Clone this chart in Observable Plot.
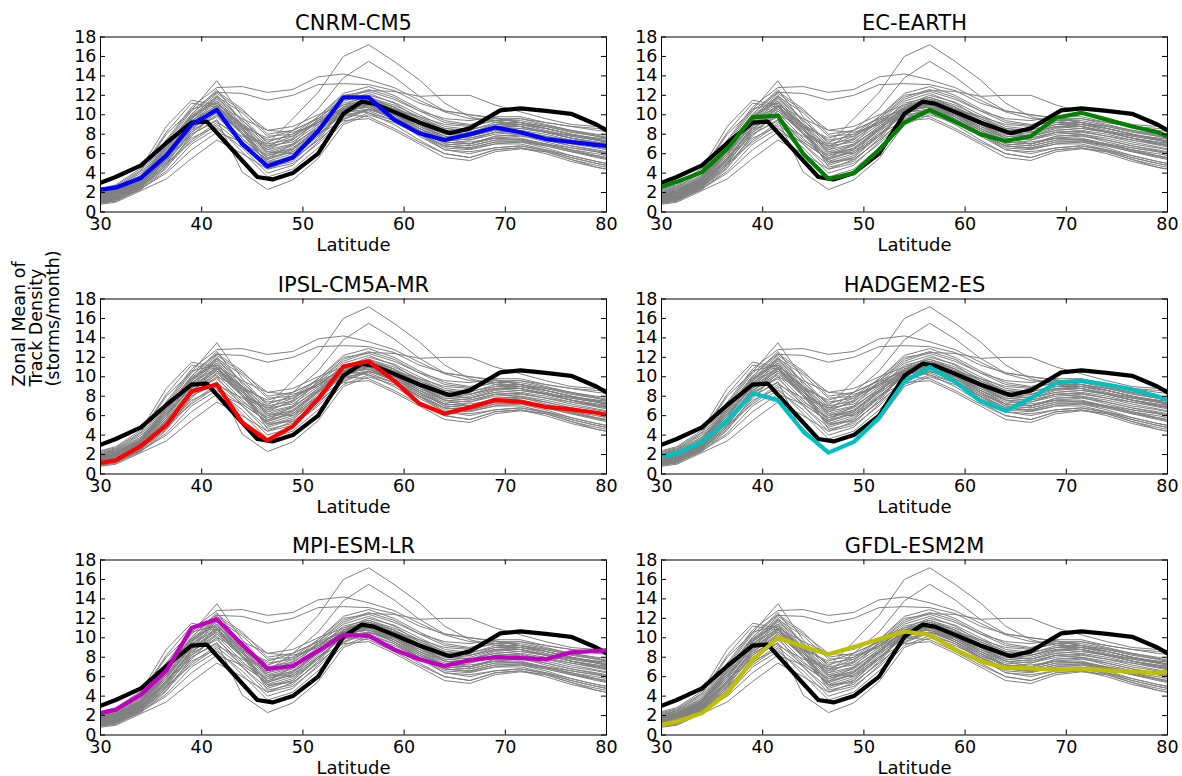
<!DOCTYPE html>
<html><head><meta charset="utf-8">
<script src="https://cdn.jsdelivr.net/npm/d3@7"></script>
<script src="https://cdn.jsdelivr.net/npm/@observablehq/plot@0.6"></script>
<style>
body{margin:0;background:#fff;width:1182px;height:776px;overflow:hidden;position:relative;font-family:"DejaVu Sans",sans-serif}
.panel{position:absolute}
</style></head><body>
<div id="root"></div>
<script>
// Latitude grid of the model curves
const lat = [30,31.5,34,36.5,39,41.5,44,46.5,49,51.5,54,56.5,59,61.5,64,66.5,69,71.5,74,76.5,79,80];
// Observed (black) curve
const obsLat = [30,31.5,34,36.5,39,40.5,44,45.5,47,49,51.5,54,55.8,57,59,61.5,64.5,66.5,69.5,71.5,74,76.5,79,80];
const obsValues = [3.0,3.6,4.8,7.1,9.2,9.3,5.3,3.6,3.35,4.0,6.0,10.1,11.35,11.15,10.3,9.2,8.1,8.6,10.45,10.65,10.4,10.1,9.0,8.4];

// Highlighted models
const modelNames = ["CNRM-CM5","EC-EARTH","IPSL-CM5A-MR","HADGEM2-ES","MPI-ESM-LR","GFDL-ESM2M"];
const modelColors = ["#0000ff","#008000","#ff0000","#00bfbf","#bf00bf","#bfbf00"];
const cnrm   = [2.3,2.5,3.5,5.8,9.0,10.5,7.0,4.7,5.6,8.3,11.8,11.8,9.5,8.1,7.4,8.0,8.7,8.2,7.5,7.2,6.9,6.8];
const ecearth= [2.6,3.1,4.1,6.5,9.75,9.9,6.0,3.4,4.0,6.4,9.2,10.5,9.3,8.0,7.3,7.8,9.7,10.2,9.5,8.8,8.2,7.8];
const ipsl   = [1.15,1.4,2.9,5.0,8.5,9.2,5.3,3.45,4.9,7.7,11.05,11.6,9.6,7.25,6.2,6.85,7.6,7.45,6.9,6.65,6.3,6.1];
const hadgem = [1.8,2.1,3.3,5.5,8.3,7.6,4.4,2.2,3.3,5.8,9.5,11.0,9.5,7.5,6.5,7.8,9.4,9.6,9.2,8.7,8.0,7.6];
const mpi    = [2.25,2.6,4.15,6.6,11.0,11.9,9.3,6.8,7.1,8.65,10.3,10.2,8.8,7.8,7.1,7.7,8.0,7.9,7.8,8.5,8.65,8.7];
const gfdl   = [1.05,1.4,2.25,4.3,7.7,10.0,9.1,8.3,9.05,9.85,10.65,10.3,8.8,7.6,6.9,6.85,6.7,6.8,6.65,6.5,6.4,6.5];
const modelSeries = [cnrm, ecearth, ipsl, hadgem, mpi, gfdl];

// Ensemble (gray) curves
const g01=[1.5,1.9,3.0,5.5,8.6,10.4,8.0,7.0,9.6,12.3,16.0,17.2,15.5,13.6,11.2,9.8,9.2,8.8,8.2,7.6,7.0,6.8];
const g02=[1.8,2.2,3.4,6.2,9.4,11.2,9.0,6.6,8.4,10.6,13.8,15.5,13.9,11.9,10.4,10.0,9.6,9.2,8.6,8.0,7.4,7.2];
const g03=[2.2,2.6,4.0,7.4,10.8,12.8,12.9,12.3,12.6,13.9,14.2,13.6,12.8,11.5,10.3,9.6,9.4,9.0,8.6,8.0,7.5,7.3];
const g04=[2.0,2.4,3.7,6.8,10.1,12.3,12.2,11.5,12.0,13.1,13.2,13.1,12.5,11.2,10.4,10.0,9.7,9.2,8.8,8.3,7.8,7.6];
const g05=[1.7,2.1,3.3,6.0,9.0,10.6,8.2,5.5,7.0,9.6,11.6,12.5,12.4,11.9,12.0,12.0,11.0,10.3,9.6,9.0,8.8,8.7];
const g06=[1.0,1.2,2.3,4.5,8.0,9.5,4.1,2.3,3.3,5.5,9.0,10.0,9.2,8.0,6.8,6.5,7.0,7.0,6.4,5.6,5.0,4.8];
const g07=[2.0,2.5,4.2,8.0,10.5,13.5,9.8,7.0,7.5,9.2,11.0,12.0,11.3,10.0,8.8,8.5,9.0,9.0,8.4,7.8,7.4,7.2];
const g08=[2.4,2.8,4.5,8.8,11.5,11.0,8.6,6.2,6.9,8.8,10.6,11.6,10.8,9.4,8.2,8.0,8.7,8.8,8.3,7.9,7.6,7.5];
const g09=[0.8,1.0,2.2,3.4,5.5,7.4,6.0,4.4,5.0,7.0,9.5,10.5,10.0,8.6,7.4,7.2,7.6,7.4,6.8,6.2,5.8,5.6];
const g10=[1.2,1.5,2.8,5.2,8.8,11.8,9.0,6.0,6.5,8.5,10.5,11.2,10.2,8.8,7.6,7.4,8.2,8.3,7.8,7.2,6.7,6.5];
const g11=[1.4,1.8,3.0,5.8,9.2,12.0,9.5,6.8,7.2,9.0,11.2,11.8,10.8,9.2,8.0,7.8,8.6,8.8,8.2,7.6,7.1,6.9];
const g12=[1.1,1.4,2.6,4.8,7.8,10.4,8.2,5.0,5.6,7.8,10.2,11.0,10.0,8.4,7.0,6.8,7.4,7.5,7.0,6.3,5.7,5.5];
const g13=[1.6,2.0,3.2,6.4,9.8,11.6,8.8,4.6,5.2,7.6,10.8,11.4,10.4,9.0,7.8,7.6,8.2,8.0,7.4,6.8,6.3,6.1];
const g14=[1.3,1.6,2.9,5.6,8.4,9.8,7.4,5.8,6.4,8.6,10.4,10.8,9.8,8.2,6.8,6.6,7.2,7.3,6.9,6.4,6.0,5.8];
const g15=[1.9,2.3,3.6,7.0,10.4,12.4,10.6,8.0,8.4,9.6,11.8,12.6,11.8,10.4,9.2,8.9,9.4,9.4,8.9,8.4,8.0,7.9];
const g16=[0.9,1.1,2.4,4.2,7.0,8.6,6.6,4.0,4.8,7.2,9.8,10.6,9.6,8.0,6.4,6.2,6.6,6.8,6.3,5.6,5.0,4.8];
const g17=[1.5,1.8,3.1,6.0,9.6,11.4,8.4,6.4,7.6,9.8,12.2,12.9,12.0,10.6,9.4,9.0,9.6,9.6,9.0,8.4,7.9,7.7];
const g18=[1.2,1.5,2.7,5.0,8.2,10.0,7.0,4.8,5.6,8.0,10.0,10.4,9.4,7.8,6.4,6.0,6.6,6.8,6.4,5.8,5.2,5.0];
const g19=[1.7,2.0,3.3,6.6,10.0,12.6,9.2,6.6,7.4,9.4,11.4,12.2,11.2,9.6,8.4,8.2,8.8,9.0,8.6,8.0,7.6,7.5];
const g20=[1.0,1.3,2.5,4.6,7.4,9.2,7.8,6.8,7.8,9.4,10.6,10.2,9.0,7.4,6.0,5.6,6.4,6.6,6.2,5.4,4.6,4.4];
const g21=[1.4,1.7,3.0,5.4,8.8,11.0,9.6,8.4,8.8,10.0,11.0,11.6,10.6,9.2,8.2,7.8,8.4,8.6,8.2,7.6,7.2,7.0];
const g22=[1.8,2.2,3.5,6.8,9.9,11.9,10.2,7.8,8.0,9.2,10.8,11.0,10.0,8.6,7.6,7.4,8.0,8.2,7.8,7.4,7.0,6.9];
const g23=[1.1,1.4,2.6,5.0,8.4,10.8,8.6,6.2,6.0,7.8,10.4,11.4,10.6,9.0,7.6,7.0,7.8,7.9,7.2,6.6,6.2,6.0];
const g24=[1.6,1.9,3.2,6.2,9.4,10.9,8.0,5.6,6.2,8.4,10.8,11.8,11.0,9.8,8.6,8.4,9.2,9.2,8.6,8.0,7.5,7.3];
const g25=[2.1,2.5,3.8,7.2,10.6,11.2,8.8,6.4,7.0,8.6,10.2,10.6,9.6,8.2,7.2,7.0,7.6,7.6,7.0,6.4,5.8,5.6];
const g26=[1.3,1.6,2.8,5.4,8.6,10.2,7.6,5.2,6.0,8.2,10.4,11.2,10.2,8.6,7.2,7.0,7.8,8.0,7.6,7.0,6.6,6.4];
const g27=[0.9,1.2,2.4,4.0,6.4,8.2,7.2,5.4,6.2,8.0,9.4,9.6,8.4,7.0,5.6,5.3,6.2,6.5,6.2,5.4,4.8,4.6];
const g28=[1.5,1.9,3.1,5.8,9.0,10.8,9.0,7.4,7.8,9.2,10.4,10.8,10.0,8.8,7.8,7.6,8.2,8.4,8.0,7.4,6.9,6.7];
const g29=[1.2,1.5,2.8,5.2,8.0,9.4,7.2,5.4,6.4,8.4,10.0,9.8,8.6,7.2,6.0,5.6,6.4,6.6,6.0,5.2,4.6,4.4];
const g30=[1.9,2.3,3.5,6.6,9.6,11.8,9.4,7.2,8.0,9.8,12.0,12.4,11.6,10.4,9.6,9.4,9.8,9.8,9.2,8.8,8.6,8.5];
const g31=[1.0,1.3,2.5,4.8,7.6,8.8,6.2,3.6,4.4,6.6,9.2,10.2,9.4,8.0,6.6,6.4,7.0,7.2,6.8,6.2,5.6,5.4];
const g32=[1.6,2.0,3.3,6.0,9.2,11.0,8.2,5.8,6.6,8.6,10.8,11.6,10.8,9.6,8.6,8.2,9.0,9.2,8.8,8.2,7.8,7.6];
const g33=[1.4,1.7,2.9,5.6,8.8,10.6,8.4,6.0,6.8,8.8,10.6,11.0,9.8,8.4,7.2,7.0,7.6,7.8,7.4,6.8,6.4,6.2];
const g34=[2.3,2.7,4.3,8.2,11.2,10.8,8.0,5.0,5.8,8.0,10.2,11.0,10.2,9.0,8.0,7.8,8.4,8.6,8.2,7.6,7.2,7.1];
const g35=[1.1,1.4,2.7,5.0,7.2,9.0,7.0,4.4,5.4,7.4,9.6,10.6,9.8,8.4,7.0,6.8,7.4,7.4,7.0,6.6,6.2,6.0];
const g36=[1.7,2.1,3.4,6.4,9.6,12.2,10.4,8.4,8.2,9.0,10.6,11.4,10.6,9.4,8.4,8.2,8.8,8.8,8.2,7.8,7.4,7.2];
const g37=[1.3,1.6,2.9,5.4,8.2,10.0,8.8,7.6,8.4,9.6,10.6,10.8,9.6,8.0,6.8,6.6,7.2,7.2,6.6,5.8,5.2,5.0];
const g38=[1.8,2.1,3.4,6.6,9.8,11.4,8.6,5.2,5.4,7.4,10.6,11.2,10.6,9.8,9.0,8.8,9.4,9.6,9.2,8.8,8.4,8.3];
const ensemble=[g01,g02,g03,g04,g05,g06,g07,g08,g09,g10,g11,g12,g13,g14,g15,g16,g17,g18,g19,g20,
  g21,g22,g23,g24,g25,g26,g27,g28,g29,g30,g31,g32,g33,g34,g35,g36,g37,g38];

const xTicks = [30,40,50,60,70,80];
const yTicks = [0,2,4,6,8,10,12,14,16,18];
const xLabel = "Latitude";
const yLabel = "Zonal Mean of\nTrack Density\n(storms/month)";

// tables built from the arrays
const grayRows = ensemble.flatMap((s, m) => s.map((v, i) => ({lat: lat[i], value: v, member: m})));
const obsRows = obsValues.map((v, i) => ({lat: obsLat[i], value: v}));

const W = 620, H = 261, ML = 100, MR = 14, MT = 36.5, MB = 49.5;
const frameW = W - ML - MR, frameH = H - MT - MB;
const TL = 5; // tick length
const colLeft = [0, 561];
const rowTop = [0, 261.5, 523];

const root = document.getElementById("root");
modelNames.forEach((name, k) => {
  const row = Math.floor(k / 2), col = k % 2;
  const rows = modelSeries[k].map((v, i) => ({lat: lat[i], value: v}));
  const marks = [
    Plot.line(grayRows, {x: "lat", y: "value", z: "member", stroke: "#808080", strokeWidth: 1, clip: true}),
    Plot.line(obsRows, {x: "lat", y: "value", stroke: "black", strokeWidth: 4.2, strokeLinejoin: "round", clip: true}),
    Plot.line(rows, {x: "lat", y: "value", stroke: modelColors[k], strokeWidth: 4.2, strokeLinejoin: "round", clip: true}),
    Plot.frame({stroke: "black", strokeWidth: 1}),
    Plot.tickX(xTicks, {x: d => d, insetTop: frameH - TL, stroke: "black"}),
    Plot.tickX(xTicks, {x: d => d, insetBottom: frameH - TL, stroke: "black"}),
    Plot.tickY(yTicks, {y: d => d, insetRight: frameW - TL, stroke: "black"}),
    Plot.tickY(yTicks, {y: d => d, insetLeft: frameW - TL, stroke: "black"}),
    Plot.axisX(xTicks, {tickSize: 0, tickPadding: 6, label: null, fontSize: 17.5}),
    Plot.axisY(yTicks, {tickSize: 0, tickPadding: 4, label: null, fontSize: 17.5}),
    Plot.text([name], {frameAnchor: "top", lineAnchor: "middle", dy: -14, fontSize: 21}),
    Plot.text([xLabel], {frameAnchor: "bottom", lineAnchor: "middle", dy: 33, fontSize: 18})
  ];
  if (k === 2) {
    marks.push(Plot.text([yLabel], {frameAnchor: "left", lineAnchor: "middle", dx: -64, rotate: -90, fontSize: 17.5, lineHeight: 0.98}));
  }
  const svg = Plot.plot({
    width: W, height: H,
    marginLeft: ML, marginRight: MR, marginTop: MT, marginBottom: MB,
    style: {background: "transparent", fontFamily: "DejaVu Sans", fontSize: "17.5px", color: "black", overflow: "visible"},
    x: {domain: [30, 80]},
    y: {domain: [0, 18]},
    marks
  });
  const div = document.createElement("div");
  div.className = "panel";
  div.style.left = colLeft[col] + "px";
  div.style.top = rowTop[row] + "px";
  div.appendChild(svg);
  root.appendChild(div);
});
</script>
</body></html>
